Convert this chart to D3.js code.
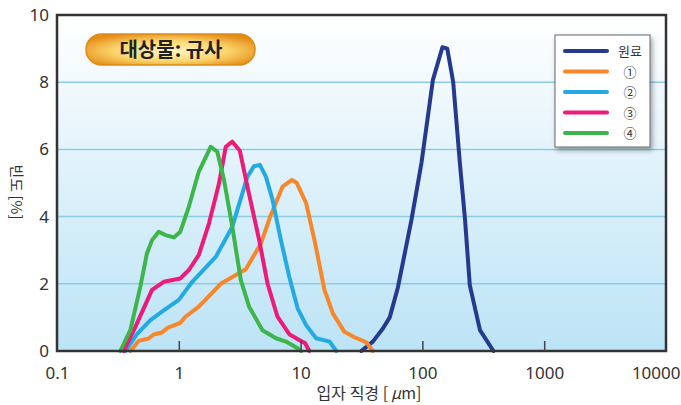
<!DOCTYPE html>
<html>
  <head>
    <meta charset="utf-8">
    <script src="https://d3js.org/d3.v7.min.js"></script>
    <style>
      body { margin: 0; background: #fff; }
      text { font-family: "Noto Sans CJK KR", "Noto Sans", sans-serif; fill: #333; }
      .tick text { font-family: "Noto Sans", "Noto Sans CJK KR", sans-serif; font-size: 17px; fill: #333; }
      .grid { stroke: #8ccbe6; stroke-width: 1.5; }
      .curve { fill: none; stroke-width: 4; stroke-linejoin: round; stroke-linecap: round; }
    </style>
  </head>
  <body>
    <svg width="681" height="405"></svg>
    <script>
      // 데이터 (입자 직경 µm, 빈도 %)
      var seriesNames = ["원료", "①", "②", "③", "④"];
      var colors = ["#253a8e", "#f7872a", "#24aae2", "#ec1b78", "#3db54a"];

      var rawX = [31.5, 39.2, 47.4, 53.9, 63, 81.3, 98.3, 122, 146, 160, 179, 203, 224, 245, 297, 383];
      var rawY = [0, 0.28, 0.67, 1.0, 1.9, 3.9, 5.6, 8.07, 9.04, 9.0, 8.0, 5.6, 3.9, 1.96, 0.62, 0];

      var s1X = [0.40, 0.468, 0.566, 0.622, 0.728, 0.80, 0.91, 1.03, 1.135, 1.46, 2.21, 3.55, 4.72, 5.70, 7.11, 8.49, 9.27, 11.1, 13.0, 15.7, 18.4, 22.9, 27.7, 34.6, 39.2];
      var s1Y = [0, 0.3, 0.37, 0.49, 0.55, 0.68, 0.76, 0.84, 1.02, 1.32, 2.0, 2.43, 3.2, 4.05, 4.89, 5.09, 5.01, 4.4, 3.3, 1.82, 1.12, 0.57, 0.41, 0.26, 0];

      var s2X = [0.364, 0.453, 0.585, 0.728, 1.0, 1.29, 2.01, 2.75, 3.66, 4.15, 4.63, 5.19, 5.88, 6.89, 8.07, 9.45, 11.1, 13.4, 17.3, 19.6];
      var s2Y = [0, 0.5, 0.92, 1.17, 1.52, 2.06, 2.8, 3.7, 5.19, 5.5, 5.54, 5.19, 4.5, 3.3, 2.21, 1.27, 0.77, 0.38, 0.28, 0];

      var s3X = [0.352, 0.44, 0.603, 0.752, 1.03, 1.21, 1.46, 1.77, 2.14, 2.43, 2.75, 3.17, 3.66, 4.57, 5.35, 6.46, 8.07, 9.75, 10.9, 11.8];
      var s3Y = [0, 0.72, 1.82, 2.06, 2.16, 2.41, 2.86, 3.8, 4.99, 6.08, 6.23, 5.96, 4.89, 3.3, 2.01, 1.02, 0.5, 0.33, 0.23, 0];

      var s4X = [0.331, 0.40, 0.483, 0.548, 0.603, 0.684, 0.777, 0.91, 1.03, 1.21, 1.46, 1.83, 2.07, 2.35, 2.75, 3.23, 3.78, 4.86, 6.27, 7.58, 9.45, 10.1];
      var s4Y = [0, 0.62, 1.91, 2.91, 3.3, 3.55, 3.45, 3.38, 3.55, 4.3, 5.34, 6.08, 5.93, 5.09, 3.7, 2.11, 1.32, 0.62, 0.38, 0.28, 0.08, 0];

      var xTicks = [0.1, 1, 10, 100, 1000, 10000];
      var xTickLabels = ["0.1", "1", "10", "100", "1000", "10000"];
      var yTicks = [0, 2, 4, 6, 8, 10];

      var allX = [rawX, s1X, s2X, s3X, s4X];
      var allY = [rawY, s1Y, s2Y, s3Y, s4Y];

      var svg = d3.select("svg");
      var pLeft = 57, pRight = 666, pTop = 15, pBottom = 351;

      var x = d3.scaleLog().domain([0.1, 10000]).range([pLeft, pRight]);
      var y = d3.scaleLinear().domain([0, 10]).range([pBottom, pTop]);

      var defs = svg.append("defs");
      var bg = defs.append("linearGradient").attr("id", "bg")
          .attr("x1", 0).attr("y1", 0).attr("x2", 0).attr("y2", 1);
      bg.append("stop").attr("offset", "0%").attr("stop-color", "#ffffff");
      bg.append("stop").attr("offset", "100%").attr("stop-color", "#bce3f6");

      var pill = defs.append("radialGradient").attr("id", "pill")
          .attr("cx", "50%").attr("cy", "55%").attr("r", "60%");
      pill.append("stop").attr("offset", "0%").attr("stop-color", "#fff6c4");
      pill.append("stop").attr("offset", "55%").attr("stop-color", "#fcd66e");
      pill.append("stop").attr("offset", "100%").attr("stop-color", "#e58d18");

      var shadow = defs.append("filter").attr("id", "shadow")
          .attr("x", "-20%").attr("y", "-20%").attr("width", "150%").attr("height", "150%");
      shadow.append("feDropShadow").attr("dx", 2).attr("dy", 3)
          .attr("stdDeviation", 2.5).attr("flood-color", "#000").attr("flood-opacity", 0.35);

      // 배경
      svg.append("rect")
          .attr("x", pLeft).attr("y", pTop)
          .attr("width", pRight - pLeft).attr("height", pBottom - pTop)
          .attr("fill", "url(#bg)");

      // 격자선
      svg.selectAll(".grid")
          .data(yTicks.filter(function(d) { return d > 0 && d < 10; }))
          .enter().append("line")
          .attr("class", "grid")
          .attr("x1", pLeft).attr("x2", pRight)
          .attr("y1", function(d) { return y(d); })
          .attr("y2", function(d) { return y(d); });

      // 곡선
      var line = d3.line()
          .x(function(d) { return x(d[0]); })
          .y(function(d) { return y(d[1]); });

      for (var i = 0; i < allX.length; i++) {
        var pts = d3.zip(allX[i], allY[i]);
        svg.append("path")
            .attr("class", "curve")
            .attr("stroke", colors[i])
            .attr("d", line(pts));
      }

      // 테두리
      svg.append("rect")
          .attr("x", pLeft).attr("y", pTop)
          .attr("width", pRight - pLeft).attr("height", pBottom - pTop)
          .attr("fill", "none").attr("stroke", "#333").attr("stroke-width", 2.5);

      // X축
      var xAxis = svg.append("g")
          .attr("transform", "translate(0," + pBottom + ")")
          .call(d3.axisBottom(x).tickValues(xTicks)
              .tickFormat(function(d, i) { return xTickLabels[i]; })
              .tickSize(-10).tickPadding(16));
      xAxis.select(".domain").remove();
      xAxis.selectAll(".tick line").attr("stroke", "#444").attr("stroke-width", 1.5)
          .filter(function(d) { return d === 0.1 || d === 10000; }).remove();
      xAxis.selectAll(".tick text")
          .filter(function(d) { return d === 10000; })
          .attr("text-anchor", "end").attr("x", 14);

      // Y축
      var yAxis = svg.append("g")
          .attr("transform", "translate(" + pLeft + ",0)")
          .call(d3.axisLeft(y).tickValues(yTicks).tickSize(0).tickPadding(8));
      yAxis.select(".domain").remove();

      // 축 제목
      var xTitle = svg.append("text")
          .attr("x", 369).attr("y", 399)
          .attr("text-anchor", "middle")
          .style("font-size", "16px");
      xTitle.append("tspan").text("입자 직경 [");
      xTitle.append("tspan").attr("dx", 3).style("font-style", "italic").text("μ");
      xTitle.append("tspan").text("m]");

      svg.append("text")
          .attr("transform", "translate(11,192) rotate(90)")
          .attr("text-anchor", "middle")
          .style("font-size", "15px")
          .text("빈도 [%]");

      // 제목 배지
      svg.append("rect")
          .attr("x", 86).attr("y", 34)
          .attr("width", 169).attr("height", 31)
          .attr("rx", 15.5)
          .attr("fill", "url(#pill)")
          .attr("stroke", "#dd8a1a").attr("stroke-width", 1.5);
      svg.append("text")
          .attr("x", 171).attr("y", 57)
          .attr("text-anchor", "middle")
          .style("font-size", "20px").style("font-weight", "bold")
          .style("fill", "#222")
          .text("대상물: 규사");

      // 범례
      var legend = svg.append("g");
      legend.append("rect")
          .attr("x", 555).attr("y", 35)
          .attr("width", 95).attr("height", 112)
          .attr("fill", "#fff").attr("stroke", "#666").attr("stroke-width", 1)
          .attr("filter", "url(#shadow)");

      var rows = legend.selectAll(".row")
          .data(seriesNames)
          .enter().append("g")
          .attr("transform", function(d, i) { return "translate(0," + (51 + i * 20.5) + ")"; });
      rows.append("line")
          .attr("x1", 565).attr("x2", 607)
          .attr("stroke", function(d, i) { return colors[i]; })
          .attr("stroke-width", 4).attr("stroke-linecap", "round");
      rows.append("text")
          .attr("x", 630).attr("y", 5)
          .attr("text-anchor", "middle")
          .style("font-size", "13px")
          .text(function(d) { return d; });
    </script>
  </body>
</html>
